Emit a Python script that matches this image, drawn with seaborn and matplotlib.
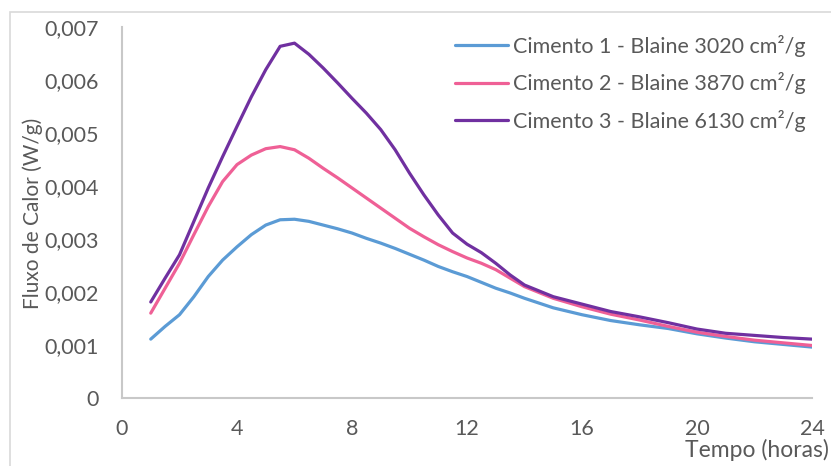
import matplotlib
matplotlib.use("Agg")
import matplotlib.pyplot as plt
import seaborn as sns
import pandas as pd
from matplotlib.patches import Rectangle
from matplotlib.ticker import FuncFormatter

tempo = [1, 1.5, 2, 2.5, 3, 3.5, 4, 4.5, 5, 5.5, 6, 6.5, 7, 7.5, 8, 8.5, 9, 9.5,
         10, 10.5, 11, 11.5, 12, 12.5, 13, 13.5, 14, 15, 16, 17, 18, 19, 20, 21, 22, 23, 24]
cimento1 = [0.00111, 0.00135, 0.00157, 0.00191, 0.00229, 0.00260, 0.00285, 0.00308,
            0.00326, 0.00336, 0.00337, 0.00333, 0.00326, 0.00319, 0.00311, 0.00301,
            0.00292, 0.00282, 0.00271, 0.00260, 0.00248, 0.00238, 0.00229, 0.00218,
            0.00207, 0.00198, 0.00188, 0.00170, 0.00157, 0.00146, 0.00138, 0.00131,
            0.00121, 0.00113, 0.00106, 0.00101, 0.00096]
cimento2 = [0.00160, 0.00207, 0.00254, 0.00308, 0.00361, 0.00408, 0.00440, 0.00458,
            0.00470, 0.00474, 0.00468, 0.00452, 0.00433, 0.00415, 0.00396, 0.00377,
            0.00358, 0.00339, 0.00320, 0.00304, 0.00289, 0.00276, 0.00264, 0.00254,
            0.00242, 0.00226, 0.00210, 0.00188, 0.00172, 0.00158, 0.00147, 0.00135,
            0.00124, 0.00116, 0.00109, 0.00104, 0.00099]
cimento3 = [0.00181, 0.00226, 0.00270, 0.00333, 0.00396, 0.00455, 0.00512, 0.00568,
            0.00619, 0.00663, 0.00669, 0.00648, 0.00622, 0.00594, 0.00565, 0.00537,
            0.00506, 0.00468, 0.00424, 0.00383, 0.00345, 0.00311, 0.00290, 0.00274,
            0.00254, 0.00232, 0.00213, 0.00191, 0.00177, 0.00163, 0.00153, 0.00142,
            0.00130, 0.00122, 0.00118, 0.00114, 0.00111]
series_names = ["Cimento 1 - Blaine 3020 cm²/g",
                "Cimento 2 - Blaine 3870 cm²/g",
                "Cimento 3 - Blaine 6130 cm²/g"]
colors = ["#5B9BD5", "#EF6096", "#7030A0"]
x_ticks = [0, 4, 8, 12, 16, 20, 24]
y_ticks = [0, 0.001, 0.002, 0.003, 0.004, 0.005, 0.006, 0.007]

n = len(tempo)
df = pd.DataFrame({
    "Tempo": tempo * 3,
    "Fluxo": cimento1 + cimento2 + cimento3,
    "Serie": [series_names[0]] * n + [series_names[1]] * n + [series_names[2]] * n,
})

sns.set_theme(style="white")
plt.rcParams["font.family"] = ["Lato", "DejaVu Sans"]

fig = plt.figure(figsize=(8.31, 4.66), dpi=100)
ax = fig.add_axes([122/831, 1-398/466, 690/831, (398-26.7)/466])

sns.lineplot(data=df, x="Tempo", y="Fluxo", hue="Serie", palette=colors,
             linewidth=2.3, ax=ax, legend=True)

ax.set_xlim(0, 24)
ax.set_ylim(0, 0.007)
ax.set_xticks(x_ticks)
ax.set_yticks(y_ticks)
ax.yaxis.set_major_formatter(FuncFormatter(lambda v, p: "0" if v == 0 else f"{v:.3f}".replace(".", ",")))
ax.tick_params(axis="both", length=0, labelsize=15.5, colors="#595959")
ax.tick_params(axis="y", pad=16.5)
ax.tick_params(axis="x", pad=15)

for s in ["top", "right"]:
    ax.spines[s].set_visible(False)
for s in ["left", "bottom"]:
    ax.spines[s].set_color("#C8C8C8")
    ax.spines[s].set_linewidth(1.5)

ax.set_xlabel("")
ax.set_ylabel("")
fig.text(33/831, 1-213/466, "Fluxo de Calor (W/g)", rotation=90, ha="center", va="center",
         fontsize=15, color="#595959")
fig.text(829/831, 1-450/466, "Tempo (horas)", ha="right", va="center",
         fontsize=16.5, color="#595959")

leg = ax.legend(loc="upper left", bbox_to_anchor=(455/831, 1-35/466),
                bbox_transform=fig.transFigure,
                frameon=False, fontsize=15.5, handlelength=2.45, handletextpad=0.25,
                labelspacing=0.72, borderaxespad=0, borderpad=0)
for t in leg.get_texts():
    t.set_color("#595959")
for l in leg.get_lines():
    l.set_linewidth(2.3)

fig.patches.append(Rectangle((10/831, -0.05), 1.0, 0.05 + 1 - 12/466, transform=fig.transFigure,
                             fill=False, edgecolor="#D9D9D9", linewidth=1.2, clip_on=False))

fig.savefig("out.png", dpi=100)
